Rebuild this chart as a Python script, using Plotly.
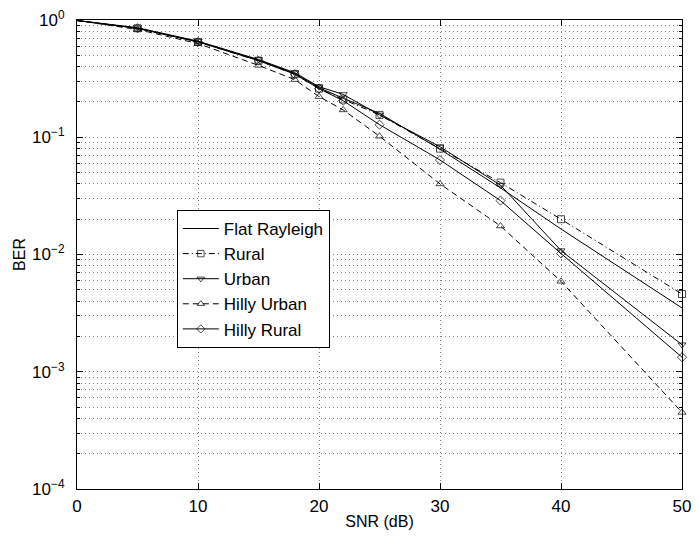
import plotly.graph_objects as go

# SNR sample points (dB)
snr_db = [0, 5, 10, 15, 18, 20, 22, 25, 30, 35, 40, 50]

# Bit error rate per channel model
ber_flat_rayleigh = [0.99, 0.85, 0.655, 0.455, 0.35, 0.265, 0.215, 0.16, 0.079, 0.037, 0.0165, 0.0035]
ber_rural = [0.99, 0.85, 0.65, 0.45, 0.345, 0.26, 0.21, 0.155, 0.08, 0.041, 0.020, 0.0046]
ber_urban = [0.99, 0.86, 0.66, 0.46, 0.355, 0.27, 0.232, 0.155, 0.083, 0.039, 0.0108, 0.0017]
ber_hilly_urban = [0.99, 0.83, 0.63, 0.41, 0.31, 0.222, 0.171, 0.102, 0.040, 0.0175, 0.0059, 0.00045]
ber_hilly_rural = [0.99, 0.85, 0.65, 0.45, 0.345, 0.26, 0.205, 0.128, 0.064, 0.0288, 0.0102, 0.00133]

x_ticks = [0, 10, 20, 30, 40, 50]
y_ticks = [1, 0.1, 0.01, 0.001, 0.0001]
y_tick_text = ["10<sup>0</sup>", "10<sup>−1</sup>", "10<sup>−2</sup>", "10<sup>−3</sup>", "10<sup>−4</sup>"]

# minor ticks at 2..9 x each decade
y_minor = [k * 10.0 ** e for e in range(-4, 0) for k in range(2, 10)]

# no marker on the 0 dB starting point
marker_sizes = [0 if x == 0 else 7 for x in snr_db]

series = [
    ("Flat Rayleigh", ber_flat_rayleigh, "solid", None),
    ("Rural", ber_rural, "6px,3px,1px,3px", "square-open"),
    ("Urban", ber_urban, "solid", "triangle-down-open"),
    ("Hilly Urban", ber_hilly_urban, "6px,4px", "triangle-up-open"),
    ("Hilly Rural", ber_hilly_rural, "solid", "diamond-open"),
]

fig = go.Figure()
for name, ber, dash, symbol in series:
    fig.add_trace(go.Scatter(
        x=snr_db, y=ber, name=name,
        mode="lines" if symbol is None else "lines+markers",
        line=dict(color="black", width=1, dash=dash),
        marker=dict(symbol=symbol or "circle", size=marker_sizes, color="black",
                    line=dict(color="black", width=1)),
        cliponaxis=False,
    ))

font_family = "Liberation Sans, Arial, Helvetica, sans-serif"
grid_color = "#808080"
grid_dash = "1px,3px"

fig.update_layout(
    width=699, height=536,
    margin=dict(l=77, r=8, t=20, b=47),
    paper_bgcolor="white", plot_bgcolor="white",
    font=dict(family=font_family, size=17, color="black"),
    showlegend=True,
    legend=dict(
        x=0.165, y=0.595, xanchor="left", yanchor="top",
        bgcolor="white", bordercolor="black", borderwidth=1,
        font=dict(size=17), itemwidth=36, tracegroupgap=0,
    ),
    xaxis=dict(
        range=[0, 50], tickvals=x_ticks,
        showline=True, linecolor="black", linewidth=1, mirror="ticks",
        ticks="inside", ticklen=6, tickcolor="black",
        showgrid=True, gridcolor=grid_color, griddash=grid_dash, gridwidth=1,
        zeroline=False, ticklabelstandoff=2, ticklabeloverflow="allow",
        title=dict(text="SNR (dB)", font=dict(size=16), standoff=0),
    ),
    yaxis=dict(
        type="log", range=[-4, 0], tickvals=y_ticks, ticktext=y_tick_text,
        showline=True, linecolor="black", linewidth=1, mirror="ticks",
        ticks="inside", ticklen=6, tickcolor="black",
        showgrid=True, gridcolor=grid_color, griddash=grid_dash, gridwidth=1,
        minor=dict(tickmode="array", tickvals=y_minor,
                   ticks="inside", ticklen=3, tickcolor="black",
                   showgrid=True, gridcolor=grid_color, griddash=grid_dash, gridwidth=1),
        zeroline=False, ticklabelstandoff=8, ticklabeloverflow="allow",
        title=dict(text="BER", font=dict(size=16), standoff=2),
    ),
)

fig.write_html("out.html")
